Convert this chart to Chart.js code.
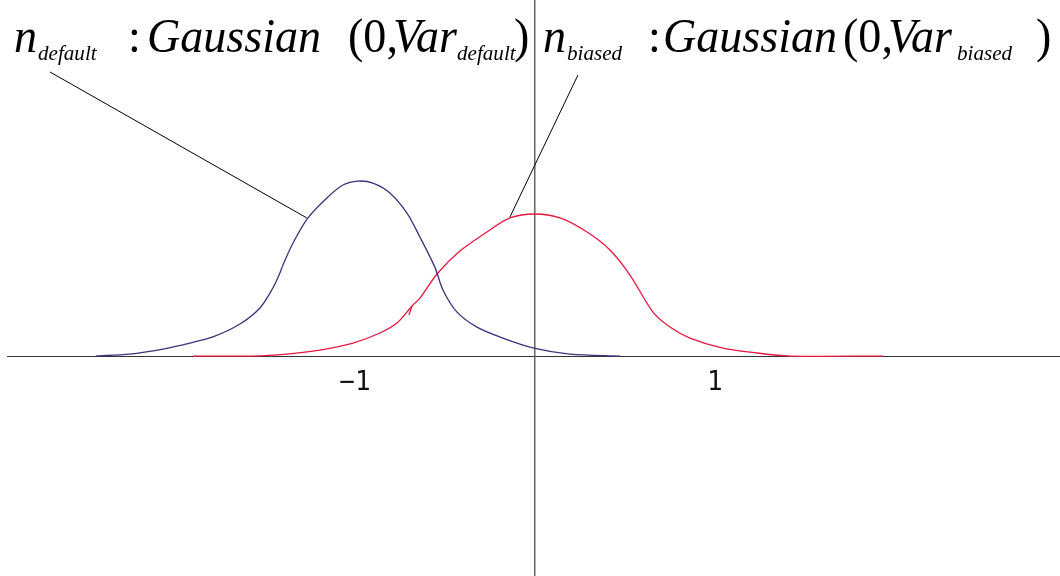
<!DOCTYPE html>
<html>
<head>
<meta charset="utf-8">
<script src="https://cdn.jsdelivr.net/npm/chart.js@4.4.1/dist/chart.umd.min.js"></script>
<style>
  html, body { margin: 0; padding: 0; background: #fff; }
  #plot { display: block; }
</style>
</head>
<body>
<canvas id="plot" width="1060" height="576"></canvas>
<script>
// two noise densities
const defaultX = [-2.44, -2.25, -2.067, -1.917, -1.789, -1.639, -1.528, -1.456, -1.417, -1.4, -1.344, -1.261, -1.156, -1.067, -0.983, -0.9, -0.806, -0.711, -0.639, -0.556, -0.511, -0.433, -0.322, -0.178, -0.006, 0.194, 0.472];
const defaultY = [0, 0.011, 0.039, 0.072, 0.106, 0.178, 0.267, 0.378, 0.461, 0.506, 0.628, 0.767, 0.878, 0.95, 0.972, 0.961, 0.906, 0.794, 0.661, 0.494, 0.367, 0.244, 0.161, 0.1, 0.044, 0.011, 0];

const biasedX = [-1.9, -1.567, -1.378, -1.194, -1.011, -0.861, -0.767, -0.683, -0.639, -0.544, -0.417, -0.267, -0.139, 0, 0.139, 0.289, 0.417, 0.528, 0.656, 0.75, 0.861, 1.044, 1.233, 1.417, 1.933];
const biasedY = [0, 0, 0.011, 0.033, 0.072, 0.128, 0.183, 0.278, 0.322, 0.456, 0.583, 0.689, 0.767, 0.789, 0.767, 0.689, 0.589, 0.45, 0.244, 0.161, 0.1, 0.044, 0.017, 0, 0];

// little stray stroke on the biased curve
const hookX = [-0.683, -0.7];
const hookY = [0.278, 0.228];

// callout lines from the labels down to each curve
const leaderDefaultX = [-2.694, -1.267];
const leaderDefaultY = [1.578, 0.767];
const leaderBiasedX = [0.239, -0.139];
const leaderBiasedY = [1.561, 0.772];

const tickValues = [-1, 1];
const tickLabels = ["\u22121", "1"];

// label pieces: [text, italic, subscript]
const labelDefault = [["n", true, false], ["default", true, true], [":", false, false], ["Gaussian", true, false], ["(0,", false, false], ["Var", true, false], ["default", true, true], [")", false, false]];
const labelBiased = [["n", true, false], ["biased", true, true], [":", false, false], ["Gaussian", true, false], ["(0,", false, false], ["Var", true, false], ["biased", true, true], [")", false, false]];
const labelDefaultLeft = [14, 38, 128, 147, 348, 393, 457, 514];
const labelBiasedLeft = [543, 567, 648, 663, 843, 888, 957, 1036];

function pts(xs, ys) {
    return xs.map((x, i) => ({ x: x, y: ys[i] }));
}

const labelPlugin = {
    id: "labels",
    afterDraw(chart) {
        const ctx = chart.ctx;
        const drawRow = (pieces, lefts) => {
            pieces.forEach((p, i) => {
                const size = p[2] ? 22 : 48;
                const base = p[2] ? 60 : 52;
                ctx.save();
                ctx.translate(lefts[i], base);
                ctx.scale(0.96, 1);
                ctx.font = (p[1] ? "italic " : "") + size + "px 'Liberation Serif'";
                ctx.fillStyle = "#000";
                ctx.textBaseline = "alphabetic";
                ctx.fillText(p[0], 0, 0);
                ctx.restore();
            });
        };
        drawRow(labelDefault, labelDefaultLeft);
        drawRow(labelBiased, labelBiasedLeft);
    }
};

new Chart(document.getElementById("plot"), {
    type: "line",
    data: {
        datasets: [
            { data: pts(defaultX, defaultY), borderColor: "#3f2f7c", borderWidth: 1.3, tension: 0.3 },
            { data: pts(biasedX, biasedY), borderColor: "#e5183e", borderWidth: 1.3, tension: 0.3 },
            { data: pts(hookX, hookY), borderColor: "#e5183e", borderWidth: 1.2, tension: 0 },
            { data: pts(leaderDefaultX, leaderDefaultY), borderColor: "#000", borderWidth: 1, tension: 0 },
            { data: pts(leaderBiasedX, leaderBiasedY), borderColor: "#000", borderWidth: 1, tension: 0 }
        ]
    },
    options: {
        responsive: false,
        animation: false,
        devicePixelRatio: 1,
        layout: { padding: { left: 7 } },
        elements: { point: { radius: 0 } },
        plugins: { legend: { display: false }, tooltip: { enabled: false } },
        scales: {
            x: {
                type: "linear",
                min: -2.933,
                max: 2.917,
                position: { y: 0 },
                grid: { display: false },
                border: { display: true, color: "#333", width: 1 },
                afterBuildTicks: axis => { axis.ticks = tickValues.map(v => ({ value: v })); },
                ticks: {
                    padding: 4,
                    color: "#111",
                    font: { family: "DejaVu Sans Mono", size: 26 },
                    callback: (v) => tickLabels[tickValues.indexOf(v)]
                }
            },
            y: {
                type: "linear",
                min: -1.222,
                max: 1.978,
                position: { x: 0 },
                grid: { display: false },
                border: { display: true, color: "#666", width: 1.5 },
                ticks: { display: false }
            }
        }
    },
    plugins: [labelPlugin]
});
</script>
</body>
</html>
